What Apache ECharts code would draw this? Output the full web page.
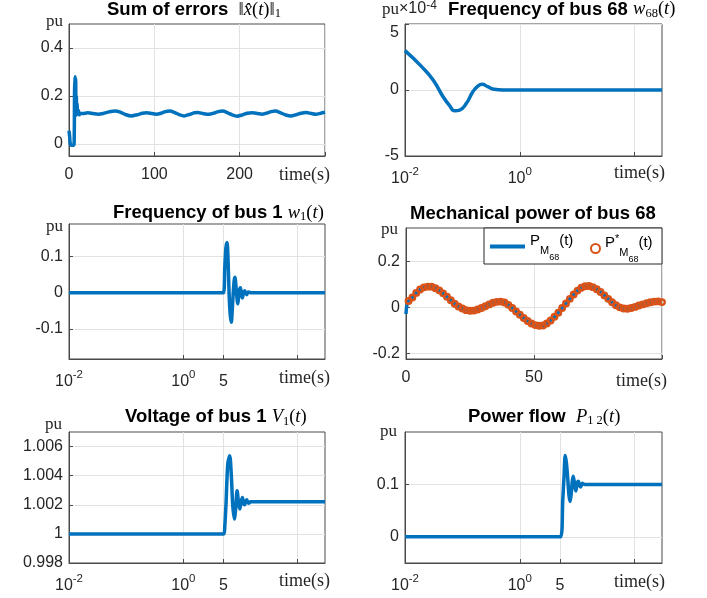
<!DOCTYPE html>
<html><head><meta charset="utf-8">
<script src="https://cdn.jsdelivr.net/npm/echarts@6/dist/echarts.min.js"></script>
<style>html,body{margin:0;padding:0;background:#fff}#c{width:707px;height:598px}</style>
</head><body><div id="c"></div>
<script>
// ---------------- data ----------------
// Panel 1: sum of errors (t in s, value in pu)
const errT = [0,0.8,1.5,3,5,6,6.5,7,7.4,7.8,8.2,8.6,9,9.5,10,11,12,13,16,22,28,34,40,47,54,60,66,73,80,86,91,97,102,108,113,118,124,130,135,141,147,151,157,164,170,175,180,186,192,197,203,209,215,221,226,232,237,242,248,254,260,266,272,278,284,289,295,300];
const errV = [0.055,0.03,0,-0.005,-0.005,0,0.22,0.28,0.14,0.27,0.12,0.2,0.13,0.17,0.125,0.14,0.122,0.128,0.127,0.13,0.127,0.124,0.127,0.134,0.138,0.133,0.123,0.117,0.122,0.128,0.13,0.127,0.124,0.128,0.135,0.137,0.131,0.121,0.117,0.123,0.13,0.131,0.127,0.124,0.129,0.135,0.137,0.13,0.12,0.116,0.121,0.128,0.13,0.127,0.124,0.129,0.135,0.137,0.13,0.121,0.117,0.122,0.128,0.131,0.127,0.124,0.128,0.132];
// Panel 2: frequency of bus 68 (units of 1e-4 pu)
const w68T = [0.01,0.0195,0.0309,0.046,0.0603,0.0733,0.0895,0.1175,0.152,0.186,0.221,0.275,0.36,0.5,1,10,100,300];
const w68V = [2.98,1.77,0.76,-0.51,-1.21,-1.57,-1.52,-1.01,-0.13,0.30,0.43,0.25,0.05,0,0,0,0,0];
// Panel 3: frequency of bus 1
const w1T = [0.01,5.0,5.3,5.55,5.81,6.05,6.3,6.6,6.91,7.15,7.45,7.75,8.02,8.25,8.5,8.75,8.94,9.2,9.45,9.7,9.94,10.15,10.35,10.55,10.77,11.0,11.3,11.8,12.3,12.8,13.3,13.9,15.3,300];
const w1V = [0,0,0.07,0.125,0.139,0.09,0,-0.06,-0.081,-0.05,0,0.035,0.043,0.025,0,-0.022,-0.030,-0.015,0,0.011,0.014,0.006,0,-0.010,-0.014,-0.008,0.002,0.006,0,-0.005,0,0.002,0,0];
// Panel 4: mechanical power of bus 68
const pmLeadT = [0,0.5];
const pmLeadV = [-0.03,0.02];
const pmStarT = [1,2.5,4,5.5,7,8.5,10,11.5,13,14.5,16,17.5,19,20.5,22,23.5,25,26.5,28,29.5,31,32.5,34,35.5,37,38.5,40,41.5,43,44.5,46,47.5,49,50.5,52,53.5,55,56.5,58,59.5,61,62.5,64,65.5,67,68.5,70,71.5,73,74.5,76,77.5,79,80.5,82,83.5,85,86.5,88,89.5,91,92.5,94,95.5,97,98.5,100];
const pmStarV = [0.027,0.042,0.062,0.077,0.086,0.089,0.089,0.082,0.073,0.060,0.045,0.030,0.015,0.003,-0.006,-0.013,-0.016,-0.015,-0.010,-0.004,0.004,0.012,0.019,0.023,0.024,0.020,0.010,-0.004,-0.019,-0.033,-0.047,-0.060,-0.071,-0.078,-0.081,-0.080,-0.071,-0.058,-0.042,-0.024,-0.004,0.016,0.036,0.055,0.072,0.084,0.091,0.092,0.087,0.078,0.066,0.051,0.036,0.021,0.008,-0.001,-0.006,-0.007,-0.004,0.001,0.007,0.012,0.017,0.021,0.024,0.025,0.022];
// Panel 5: voltage of bus 1
const v1T = [0.01,5.1,5.3,5.57,5.98,6.47,6.9,7.3,7.8,8.25,8.7,9.2,9.7,10.25,10.77,11.3,11.8,12.3,12.8,13.3,13.9,15,300];
const v1V = [1.0,1.0,1.0005,1.00205,1.0048,1.00536,1.0040,1.0020,1.00103,1.0018,1.00297,1.0022,1.00171,1.0022,1.0025,1.0021,1.0020,1.00225,1.00235,1.0022,1.0021,1.0022,1.0022];
// Panel 6: power flow 1-2
const p12T = [0.01,5.15,5.6,5.9,6.17,6.5,6.85,7.2,7.53,7.9,8.2,8.5,8.8,9.1,9.46,9.8,10.1,10.5,10.8,11.1,11.5,11.9,12.3,12.8,13.5,300];
const p12V = [0,0,0.07,0.116,0.155,0.14,0.11,0.078,0.0675,0.085,0.106,0.1157,0.108,0.095,0.0875,0.097,0.104,0.106,0.101,0.097,0.095,0.099,0.102,0.101,0.1,0.1];

// tick values
const p1XLabels = [0,100,200], p1XTicks = [0,100,200,300], p1YTicks = [0,0.2,0.4];
const p2XLabels = [0.01,1], p2XTicks = [0.01,1,100], p2YTicks = [-5,0,5];
const logXLabels = [0.01,1,5], logXTicks = [0.01,1,5,100];
const p3YTicks = [-0.1,0,0.1];
const p4XLabels = [0,50], p4XTicks = [0,50,100], p4YTicks = [-0.2,0,0.2];
const p5YTicks = [0.998,1,1.002,1.004,1.006];
const p6YTicks = [0,0.1];

// ---------------- styling ----------------
const FONT = '"Liberation Sans", Arial, Helvetica, sans-serif';
const SERIF = '"Liberation Serif", "Times New Roman", serif';
const AX = '#262626', BORDER = '#4a4a4a', GRIDC = '#e2e2e2';
const BLUE = '#0072BD', ORANGE = '#D95319';
const LOGMIN = Math.log10(0.01), LOGMAX = Math.log10(300);
const L = Math.log10;
const logPts = (ts, vs) => ts.map((t, i) => [L(t), vs[i]]);
const linPts = (ts, vs) => ts.map((t, i) => [t, vs[i]]);

function grid(left, top, width, height) {
  return {left, top, width, height, show: true, borderColor: BORDER, borderWidth: 1,
    backgroundColor: '#fff', containLabel: false, outerBoundsMode: 'none'};
}
const lineAx = {show: true, onZero: false, lineStyle: {color: BORDER, width: 1}};
const split = {show: true, lineStyle: {color: GRIDC, width: 1}};
function linX(idx, min, max, labels, ticks) {
  return {type: 'value', gridIndex: idx, min, max, axisLine: lineAx,
    axisTick: {show: true, inside: true, length: 4, customValues: ticks, lineStyle: {color: BORDER}},
    axisLabel: {customValues: labels, margin: 11, fontSize: 16, fontFamily: FONT, color: AX},
    splitLine: split};
}
const supRich = {
  b: {fontSize: 16, fontFamily: FONT, color: AX, padding: [5, 0, 0, 0], verticalAlign: 'top'},
  s: {fontSize: 11.5, fontFamily: FONT, color: AX, verticalAlign: 'top'}
};
function logFmt(v) {
  if (Math.abs(v - L(0.01)) < 1e-6) return '{b|10}{s|-2}';
  if (Math.abs(v) < 1e-6) return '{b|10}{s|0}';
  if (Math.abs(v - L(5)) < 1e-6) return '{b|5}';
  return '';
}
function logX(idx, labels, ticks) {
  return {type: 'value', gridIndex: idx, min: LOGMIN, max: LOGMAX, axisLine: lineAx,
    axisTick: {show: true, inside: true, length: 4, customValues: ticks.map(L), lineStyle: {color: BORDER}},
    axisLabel: {customValues: labels.map(L), margin: 9.5, formatter: logFmt, rich: supRich},
    splitLine: split};
}
function yAx(idx, min, max, vals, fmt, rich) {
  const lab = {customValues: vals, margin: 6, fontSize: 16, fontFamily: FONT, color: AX};
  if (fmt) lab.formatter = fmt;
  if (rich) lab.rich = rich;
  return {type: 'value', gridIndex: idx, min, max, axisLine: lineAx,
    axisTick: {show: true, inside: true, length: 4, customValues: vals, lineStyle: {color: BORDER}},
    axisLabel: lab, splitLine: split};
}
function lineSeries(idx, data, name, smooth) {
  return {type: 'line', name, xAxisIndex: idx, yAxisIndex: idx, data, symbol: 'none',
    smooth: smooth, lineStyle: {color: BLUE, width: 3.5}, itemStyle: {color: BLUE}, z: 3};
}

// titles & texts
const tRich = {
  b: {fontFamily: FONT, fontWeight: 'bold', fontSize: 18.5, color: '#000', verticalAlign: 'top'},
  m: {fontFamily: SERIF, fontStyle: 'italic', fontWeight: 'normal', fontSize: 18.5, color: '#000', verticalAlign: 'top'},
  r: {fontFamily: SERIF, fontStyle: 'normal', fontWeight: 'normal', fontSize: 18.5, color: '#000', verticalAlign: 'top'},
  sub: {fontFamily: SERIF, fontStyle: 'normal', fontWeight: 'normal', fontSize: 12.5, color: '#000', verticalAlign: 'top', padding: [7, 0, 0, 0]},
  pu: {fontFamily: SERIF, fontWeight: 'normal', fontSize: 17, color: AX, verticalAlign: 'top', padding: [1, 0, 0, 0]},
  x10: {fontFamily: FONT, fontWeight: 'normal', fontSize: 16, color: AX, verticalAlign: 'top', padding: [1, 0, 0, 0]},
  e: {fontFamily: FONT, fontWeight: 'normal', fontSize: 12, color: AX, verticalAlign: 'top', padding: [0, 0, 0, 0]}
};
function ttl(left, cy, text, align) {
  return {left, top: cy, text, textAlign: align || 'left', textVerticalAlign: 'middle', padding: 0,
    textStyle: {rich: tRich, fontFamily: FONT, fontWeight: 'bold', fontSize: 18.5, color: '#000'}};
}
function plain(left, cy, text, align, size) {
  return {left, top: cy, text, textAlign: align, textVerticalAlign: 'middle', padding: 0,
    textStyle: {fontFamily: SERIF, fontWeight: 'normal', fontSize: size, color: AX}};
}

const legRich = {
  lp: {fontFamily: FONT, fontSize: 15, color: '#000', verticalAlign: 'top', padding: [2, 0, 0, 0]},
  lm: {fontFamily: FONT, fontSize: 11, color: '#000', verticalAlign: 'top', padding: [14, 0, 0, 0]},
  ln: {fontFamily: FONT, fontSize: 9, color: '#000', verticalAlign: 'top', padding: [22, 0, 0, 0]},
  lst: {fontFamily: FONT, fontSize: 11, color: '#000', verticalAlign: 'top', padding: [0, 0, 0, 0]}
};

const option = {
  animation: false,
  backgroundColor: '#fff',
  title: [
    ttl(107, 10.5, '{b|Sum of errors  }{r|‖}{m|x̂}{r|(}{m|t}{r|)‖}{sub|1}'),
    ttl(382, 9, '{pu|pu}{x10|×10}{e|-4}'),
    ttl(448, 10, '{b|Frequency of bus 68 }{m|w}{sub|68}{r|(}{m|t}{r|)}'),
    ttl(113, 213.3, '{b|Frequency of bus 1 }{m|w}{sub|1}{r|(}{m|t}{r|)}'),
    ttl(410, 213.7, '{b|Mechanical power of bus 68}'),
    ttl(125, 417.8, '{b|Voltage of bus 1 }{m|V}{sub|1}{r|(}{m|t}{r|)}'),
    ttl(468, 417.5, '{b|Power flow  }{m|P}{sub|1 2}{r|(}{m|t}{r|)}'),
    plain(63, 22, 'pu', 'right', 17),
    plain(63, 226.5, 'pu', 'right', 17),
    plain(398, 230, 'pu', 'right', 17),
    plain(62, 425, 'pu', 'right', 17),
    plain(397, 431.5, 'pu', 'right', 17),
    plain(330, 175, 'time(s)', 'right', 18),
    plain(665, 173, 'time(s)', 'right', 18),
    plain(330, 378, 'time(s)', 'right', 18),
    plain(667, 381, 'time(s)', 'right', 18),
    plain(330, 581, 'time(s)', 'right', 18),
    plain(665, 582, 'time(s)', 'right', 18)
  ],
  grid: [
    grid(69, 24, 256, 132),
    grid(405, 24, 257, 132),
    grid(69, 224, 256, 135),
    grid(406, 228, 256, 131),
    grid(69, 432, 256, 131),
    grid(405, 432, 257, 131)
  ],
  xAxis: [
    linX(0, 0, 300, p1XLabels, p1XTicks),
    logX(1, p2XLabels, p2XTicks),
    logX(2, logXLabels, logXTicks),
    linX(3, 0, 100, p4XLabels, p4XTicks),
    logX(4, logXLabels, logXTicks),
    logX(5, logXLabels, logXTicks)
  ],
  yAxis: [
    yAx(0, -0.05, 0.5, p1YTicks),
    yAx(1, -5, 5, p2YTicks, v => v === 5 ? '{d|5}' : String(v),
        {d: {fontSize: 16, fontFamily: FONT, color: AX, padding: [18, 0, 0, 0]}}),
    yAx(2, -0.1826, 0.19, p3YTicks),
    yAx(3, -0.2254, 0.344, p4YTicks),
    yAx(4, 0.998, 1.007, p5YTicks, v => String(+v.toFixed(3))),
    yAx(5, -0.05, 0.2, p6YTicks)
  ],
  legend: [
    {left: 484, top: 230, padding: [3, 0, 3, 6], itemWidth: 35, itemHeight: 4, selectedMode: false, z: 20,
      data: [{name: 'pm', icon: 'rect'}], formatter: () => '{lp|P}{lm|M}{ln|68}{lp|(t)}',
      textStyle: {rich: legRich, fontFamily: FONT, color: '#000'}},
    {left: 587, top: 230, padding: [3, 0, 3, 3], itemWidth: 9, itemHeight: 9, selectedMode: false, z: 20,
      data: [{name: 'pmstar', icon: 'circle'}], formatter: () => '{lp|P}{lst|*}{lm|M}{ln|68}{lp|(t)}',
      textStyle: {rich: legRich, fontFamily: FONT, color: '#000'}}
  ],
  graphic: [
    {type: 'rect', z: 10, shape: {x: 484, y: 228, width: 178, height: 36},
      style: {fill: '#fff', stroke: AX, lineWidth: 1}}
  ],
  series: [
    lineSeries(0, linPts(errT, errV), 'err', 0.3),
    lineSeries(1, logPts(w68T, w68V), 'w68', 0.5),
    lineSeries(2, logPts(w1T, w1V), 'w1', 0.3),
    lineSeries(3, linPts(pmLeadT.concat(pmStarT), pmLeadV.concat(pmStarV)), 'pm', 0.5),
    {type: 'line', name: 'pmstar', xAxisIndex: 3, yAxisIndex: 3, data: linPts(pmStarT, pmStarV),
      symbol: 'circle', symbolSize: 5.5, showSymbol: true, z: 4,
      lineStyle: {width: 0, opacity: 0},
      itemStyle: {color: 'rgba(255,255,255,0)', borderColor: ORANGE, borderWidth: 2.4}},
    lineSeries(4, logPts(v1T, v1V), 'v1', 0.3),
    lineSeries(5, logPts(p12T, p12V), 'p12', 0.3)
  ]
};
const chart = echarts.init(document.getElementById('c'), null, {renderer: 'canvas'});
chart.setOption(option);
</script>
</body></html>
